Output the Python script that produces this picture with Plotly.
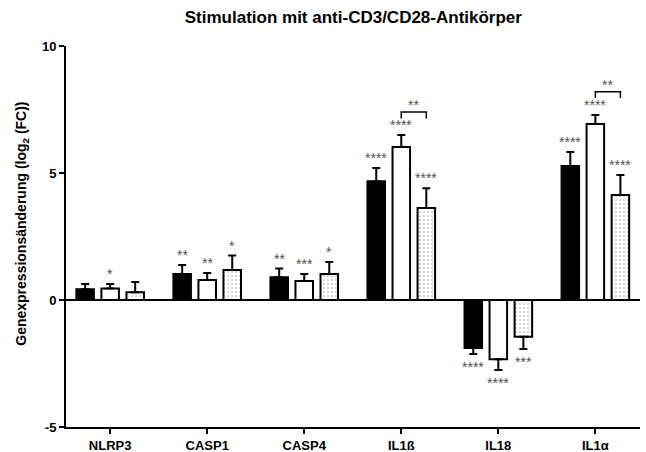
import plotly.graph_objects as go

categories = ["NLRP3", "CASP1", "CASP4", "IL1ß", "IL18", "IL1α"]
series_names = ["Gruppe 1", "Gruppe 2", "Gruppe 3"]
vals_black = [0.42, 1.02, 0.90, 4.68, -1.89, 5.28]
err_black = [0.21, 0.36, 0.34, 0.52, 0.24, 0.55]
vals_white = [0.45, 0.79, 0.75, 6.02, -2.33, 6.93]
err_white = [0.18, 0.27, 0.27, 0.48, 0.43, 0.35]
vals_dot = [0.31, 1.18, 1.02, 3.62, -1.45, 4.13]
err_dot = [0.40, 0.57, 0.48, 0.78, 0.48, 0.79]
stars_black = ["", "**", "**", "****", "****", "****"]
stars_white = ["*", "**", "***", "****", "****", "****"]
stars_dot = ["", "*", "*", "****", "***", "****"]
bracket_cats = [3, 5]
bracket_y = [7.4, 8.2]
bracket_labels = ["**", "**"]

BARGAP = 0.226
slot = (1 - BARGAP) / 3
x_idx = list(range(len(categories)))

fig = go.Figure()

def add_series(name, vals, errs, fill, pattern=None):
    up = [e if v >= 0 else 0 for v, e in zip(vals, errs)]
    down = [e if v < 0 else 0 for v, e in zip(vals, errs)]
    marker = dict(color=fill, line=dict(color="black", width=2))
    if pattern:
        marker["pattern"] = pattern
    fig.add_trace(go.Bar(
        x=x_idx, y=vals, name=name, marker=marker,
        error_y=dict(type="data", symmetric=False, array=up, arrayminus=down,
                     color="black", thickness=2, width=4),
        showlegend=False,
    ))

add_series(series_names[0], vals_black, err_black, "black")
add_series(series_names[1], vals_white, err_white, "white")
add_series(series_names[2], vals_dot, err_dot, "white",
           dict(shape=".", fgcolor="#555555", bgcolor="white", size=4, solidity=0.15))

star_font = dict(family="Liberation Sans, Arial", size=14, color="#505050")
for k, (vals, errs, stars) in enumerate([(vals_black, err_black, stars_black),
                                        (vals_white, err_white, stars_white),
                                        (vals_dot, err_dot, stars_dot)]):
    off = (k - 1) * slot
    for i, (v, e, s) in enumerate(zip(vals, errs, stars)):
        if not s:
            continue
        if v >= 0:
            fig.add_annotation(x=i + off, y=v + e, text=s, showarrow=False,
                               yanchor="bottom", yshift=0, font=star_font)
        else:
            fig.add_annotation(x=i + off, y=v - e, text=s, showarrow=False,
                               yanchor="top", yshift=-3, font=star_font)

for c, by, lab in zip(bracket_cats, bracket_y, bracket_labels):
    x0 = c
    x1 = c + slot
    fig.add_shape(type="path",
                  path=f"M {x0} {by-0.25} L {x0} {by} L {x1} {by} L {x1} {by-0.25}",
                  line=dict(color="black", width=1.5))
    fig.add_annotation(x=(x0 + x1) / 2, y=by, text=lab, showarrow=False,
                       yanchor="bottom", yshift=-3, font=star_font)

# y-axis title as rotated annotation
fig.add_annotation(xref="paper", yref="paper", x=-0.077, y=0.533,
                   text="<b>Genexpressionsänderung (log<sub>2</sub> (FC))</b>",
                   textangle=-90, showarrow=False, xanchor="center", yanchor="middle",
                   font=dict(size=14, color="black"))

fig.update_layout(
    width=646, height=452,
    margin=dict(l=66, r=6, t=46, b=25),
    paper_bgcolor="white", plot_bgcolor="white",
    barmode="group", bargap=BARGAP, bargroupgap=0.3,
    font=dict(family="Liberation Sans, Arial", color="black"),
    title=dict(text="<b>Stimulation mit anti-CD3/CD28-Antikörper</b>",
               x=0.547, xanchor="center", y=0.962, yanchor="middle",
               font=dict(size=17, color="black")),
)
fig.update_xaxes(
    range=[-0.455, 5.46], tickvals=x_idx,
    ticktext=[f"<b>{c}</b>" for c in categories],
    showline=True, linecolor="black", linewidth=2,
    ticks="outside", ticklen=5, tickwidth=2, tickcolor="black",
    tickfont=dict(size=13), showgrid=False, zeroline=False,
    automargin=False,
)
fig.update_yaxes(
    range=[-5, 10], tickvals=[-5, 0, 5, 10],
    ticktext=["<b>-5</b>", "<b>0</b>", "<b>5</b>", "<b>10</b>"],
    showline=True, linecolor="black", linewidth=2,
    ticks="outside", ticklen=5, tickwidth=2, tickcolor="black",
    tickfont=dict(size=13), showgrid=False,
    zeroline=True, zerolinecolor="black", zerolinewidth=2,
    automargin=False,
)

fig.write_html("out.html")
